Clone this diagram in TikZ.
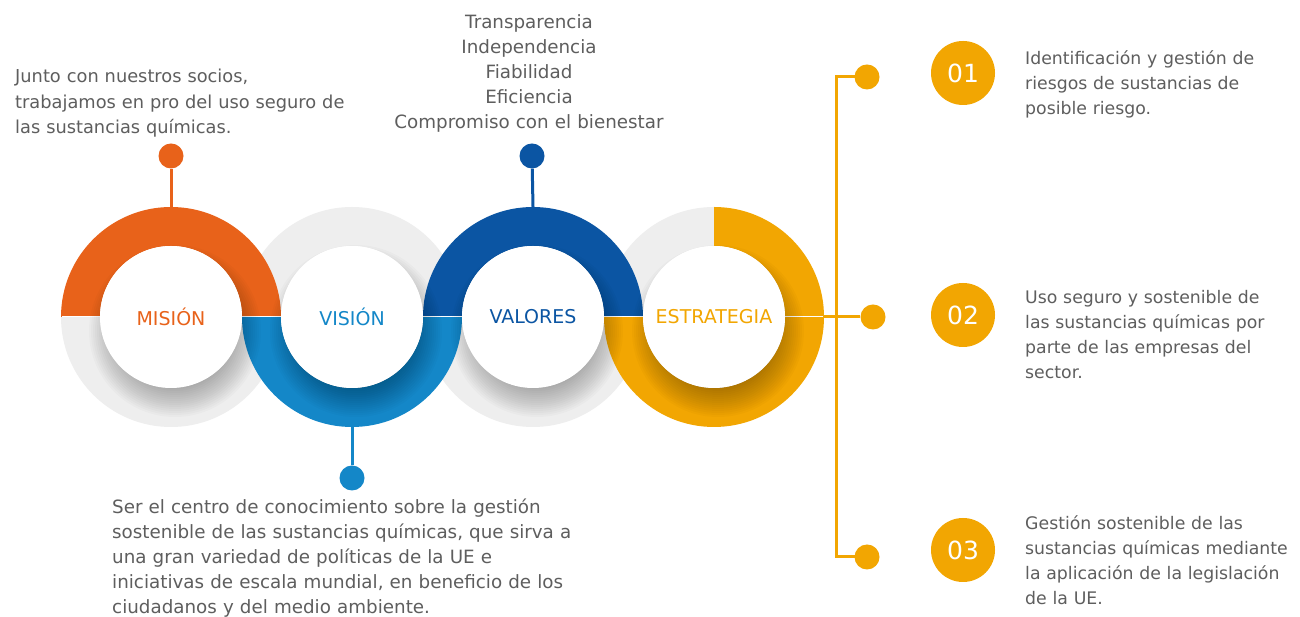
\documentclass[tikz,border=0pt]{standalone}
\usepackage{fontspec}
\setmainfont{DejaVu Sans}
\definecolor{cOrange}{HTML}{E8621A}
\definecolor{cLBlue}{HTML}{1487C8}
\definecolor{cDBlue}{HTML}{0B55A3}
\definecolor{cYellow}{HTML}{F2A602}
\definecolor{cGray}{HTML}{EEEEEE}
\definecolor{cText}{HTML}{5E5E5E}
\newcommand{\ringseg}[4]{%
  \fill[#4, shift={(#1)}] (#2:110) arc[start angle=#2, end angle=#3, radius=110]
    -- (#3:71) arc[start angle=#3, end angle=#2, radius=71] -- cycle;}
\newcommand{\hubshade}[1]{%
  \foreach \rr in {56,58,...,86}{%
    \fill[black, opacity=0.021, shift={(#1)}] (4,-14) circle[radius=\rr];}}
\tikzset{
  hub/.style={circle, fill=white, minimum size=142pt, inner sep=0pt,
    font=\fontsize{19}{22}\selectfont},
  pin/.style={circle, fill=#1, minimum size=25pt, inner sep=0pt},
  num/.style={circle, fill=cYellow, minimum size=64pt, inner sep=0pt, text=white,
    font=\fontsize{25}{28}\selectfont},
  body/.style={text=cText, inner sep=0pt, font=\fontsize{17.3}{25}\selectfont},
  bodyw/.style={text=cText, inner sep=0pt, font=\fontsize{18.3}{25}\selectfont},
  stem/.style={line width=3pt, draw=#1},
}
\begin{document}
\begin{tikzpicture}[x=1pt,y=1pt]
\useasboundingbox[fill=white] (0,0) rectangle (1300,617);
\coordinate (c1) at (171,300);
\coordinate (c2) at (352,300);
\coordinate (c3) at (533,300);
\coordinate (c4) at (714,300);
% gray parts
\ringseg{c1}{180}{360}{cGray}
\ringseg{c2}{0}{180}{cGray}
\ringseg{c3}{180}{360}{cGray}
\ringseg{c4}{90}{180}{cGray}
% coloured parts
\ringseg{c1}{0}{180}{cOrange}
\ringseg{c2}{180}{360}{cLBlue}
\ringseg{c3}{0}{180}{cDBlue}
\ringseg{c4}{-180}{90}{cYellow}
\draw[white, line width=1pt] (62,300) -- (823,300);
% shadows of hubs
\hubshade{c1}
\hubshade{c2}
\hubshade{c3}
\hubshade{c4}
% hubs
\node[hub, text=cOrange] (mision) at (c1) {MISIÓN};
\node[hub, text=cLBlue] (vision) at (c2) {VISIÓN};
\node[hub, text=cDBlue] (valores) at (c3) {VALORES};
\node[hub, text=cYellow] (estrategia) at (c4) {ESTRATEGIA};
% pins
\coordinate (mtop) at (171,410);
\coordinate (vbot) at (352,190);
\coordinate (ltop) at (533,410);
\coordinate (eright) at (824,300);
\node[pin=cOrange] (mdot) at (171,461) {};
\node[pin=cDBlue] (ldot) at (532,461) {};
\node[pin=cLBlue] (vdot) at (352,139) {};
\draw[stem=cOrange] (mdot) -- (mtop);
\draw[stem=cDBlue] (ldot) -- (ltop);
\draw[stem=cLBlue] (vdot) -- (vbot);
% strategy branch
\coordinate (bt) at (836,540);
\coordinate (bb) at (836,60);
\node[pin=cYellow] (d1) at (867,540) {};
\node[pin=cYellow] (d2) at (873,300) {};
\node[pin=cYellow] (d3) at (867,60) {};
\draw[stem=cYellow] (eright) -- (d2);
\draw[stem=cYellow, line cap=rect] (d1) -- (bt) -- (bb) -- (d3);
\node[num] (n1) at (963,544) {01};
\node[num] (n2) at (963,302) {02};
\node[num] (n3) at (963,67) {03};
% texts
\node[body, anchor=base west, text width=300pt, align=left] (t1) at (1025,552)
  {Identificación y gestión de\\riesgos de sustancias de\\posible riesgo.};
\node[body, anchor=base west, text width=300pt, align=left] (t2) at (1025,313)
  {Uso seguro y sostenible de\\las sustancias químicas por\\parte de las empresas del\\sector.};
\node[body, anchor=base west, text width=300pt, align=left] (t3) at (1025,87)
  {Gestión sostenible de las\\sustancias químicas mediante\\la aplicación de la legislación\\de la UE.};
\node[body, font=\fontsize{17.8}{25.5}\selectfont, anchor=base west, text width=400pt, align=left] (tm) at (15,534)
  {Junto con nuestros socios,\\trabajamos en pro del uso seguro de\\las sustancias químicas.};
\node[bodyw, anchor=base, text width=360pt, align=center] (tv) at (529,588)
  {Transparencia\\Independencia\\Fiabilidad\\Eficiencia\\Compromiso con el bienestar};
\node[bodyw, anchor=base west, text width=500pt, align=left] (tvi) at (112,103)
  {Ser el centro de conocimiento sobre la gestión\\sostenible de las sustancias químicas, que sirva a\\una gran variedad de políticas de la UE e\\iniciativas de escala mundial, en beneficio de los\\ciudadanos y del medio ambiente.};
\end{tikzpicture}
\end{document}
